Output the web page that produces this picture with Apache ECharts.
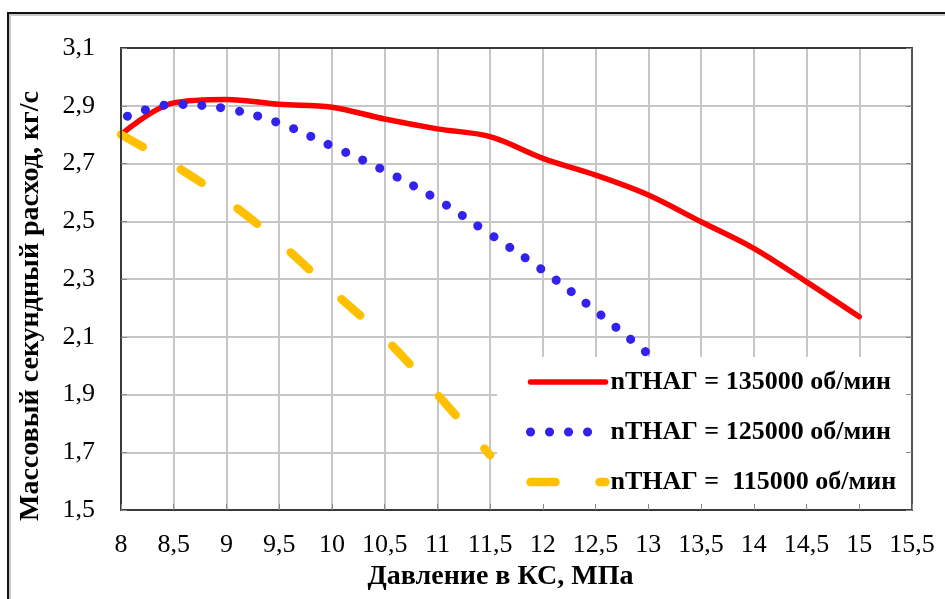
<!DOCTYPE html>
<html>
<head>
<meta charset="utf-8">
<script src="https://cdn.jsdelivr.net/npm/echarts@6/dist/echarts.min.js"></script>
<style>
  html, body { margin: 0; padding: 0; background: #fff; }
  #chart { width: 945px; height: 599px; }
</style>
</head>
<body>
<div id="chart"></div>
<script>
// Pressure in the combustion chamber, MPa
const pressure135 = [8, 8.5, 9, 9.5, 10, 10.5, 11, 11.5, 12, 12.5, 13, 13.5, 14, 14.5, 15];
const flow135     = [2.80, 2.91, 2.922, 2.905, 2.895, 2.854, 2.82, 2.793, 2.718, 2.66, 2.591, 2.498, 2.406, 2.29, 2.169];

const pressure125 = [8, 8.5, 9, 9.5, 10, 10.5, 11, 11.5, 12, 12.5, 13];
const flow125     = [2.855, 2.905, 2.89, 2.84, 2.76, 2.675, 2.575, 2.455, 2.33, 2.19, 2.04];

const pressure115 = [8, 8.5, 9, 9.5, 10, 10.5, 11, 11.5];
const flow115     = [2.80, 2.695, 2.573, 2.427, 2.26, 2.095, 1.90, 1.69];

const seriesNames = [
  'nTHAГ = 135000 об/мин',
  'nTHAГ = 125000 об/мин',
  'nTHAГ =  115000 об/мин'
];

const xRange = { min: 8, max: 15.5, interval: 0.5 };
const yRange = { min: 1.5, max: 3.1, interval: 0.2 };

const SERIF = '"Liberation Serif", "Times New Roman", serif';
const fmtX = v => String(Math.round(v * 10) / 10).replace('.', ',');
const fmtY = v => (Math.round(v * 10) / 10).toFixed(1).replace('.', ',');

const pairs = (xs, ys) => xs.map((x, i) => [x, ys[i]]);

const red = '#ff0000', blue = '#3322ee', gold = '#ffc000';
const axisDark = '#3a3a3a';

// Line styles shared by the curves and their legend samples
const redLine  = { color: red,  width: 5.5, type: 'solid', cap: 'round', join: 'round', dashOffset: 0 };
const blueLine = { color: blue, width: 9, type: [0.1, 18.9], cap: 'round', dashOffset: 0 };
const goldLine = { color: gold, width: 8.5, type: [25, 44], cap: 'round', dashOffset: 0 };

const gridAxisX = Object.assign({
  type: 'value', position: 'bottom', z: 0,
  axisLine: { show: false }, axisTick: { show: false }, axisLabel: { show: false },
  splitLine: { show: true, lineStyle: { color: '#c6c6c6', width: 2 } }
}, xRange);
const gridAxisY = Object.assign({
  type: 'value', position: 'left', z: 0,
  axisLine: { show: false }, axisTick: { show: false }, axisLabel: { show: false },
  splitLine: { show: true, lineStyle: { color: '#c6c6c6', width: 2 } }
}, yRange);

const hiddenSymbol = { opacity: 0, borderWidth: 0 };

const option = {
  backgroundColor: '#fff',
  animation: false,
  grid: { left: 121, top: 48, right: 33, bottom: 89 },
  graphic: [
    { type: 'rect', z: 10, silent: true,
      shape: { x: 10, y: 15, width: 1200, height: 1000 },
      style: { fill: null, stroke: '#c8c8c8', lineWidth: 2 } },
    { type: 'rect', z: 11, silent: true,
      shape: { x: 8, y: 13, width: 1200, height: 1000 },
      style: { fill: null, stroke: '#111', lineWidth: 2 } }
  ],
  legend: {
    orient: 'vertical',
    left: 497, top: 357,
    padding: [11, 18, 13, 29],
    backgroundColor: '#fff',
    z: 1,
    itemWidth: 75, itemHeight: 14, itemGap: 22,
    textStyle: { fontFamily: SERIF, fontWeight: 'bold', fontSize: 26, color: '#000', lineHeight: 28 },
    data: [
      { name: seriesNames[0], lineStyle: redLine,  itemStyle: hiddenSymbol },
      { name: seriesNames[1], lineStyle: blueLine, itemStyle: hiddenSymbol },
      { name: seriesNames[2], lineStyle: goldLine, itemStyle: hiddenSymbol }
    ]
  },
  xAxis: [
    gridAxisX,
    Object.assign({
      type: 'value', position: 'bottom', z: 3,
      name: 'Давление в КС, МПа', nameLocation: 'middle', nameGap: 53,
      nameTextStyle: { fontFamily: SERIF, fontWeight: 'bold', fontSize: 28, color: '#000', padding: [0, 32, 0, 0] },
      axisLine: { show: true, lineStyle: { color: axisDark, width: 2 } },
      axisTick: { show: true, inside: true, length: 6, lineStyle: { color: '#888', width: 1 } },
      axisLabel: { show: true, margin: 22, formatter: fmtX, fontFamily: SERIF, fontSize: 26, color: '#000' },
      splitLine: { show: false }
    }, xRange),
    Object.assign({
      type: 'value', position: 'top', z: 3,
      axisLine: { show: true, lineStyle: { color: axisDark, width: 2 } },
      axisTick: { show: false }, axisLabel: { show: false }, splitLine: { show: false }
    }, xRange)
  ],
  yAxis: [
    gridAxisY,
    Object.assign({
      type: 'value', position: 'left', z: 3,
      name: 'Массовый секундный расход, кг/с', nameLocation: 'middle', nameGap: 76,
      nameTextStyle: { fontFamily: SERIF, fontWeight: 'bold', fontSize: 28, color: '#000', padding: [0, 54, 0, 0] },
      axisLine: { show: true, lineStyle: { color: axisDark, width: 2 } },
      axisTick: { show: true, inside: true, length: 6, lineStyle: { color: '#888', width: 1 } },
      axisLabel: { show: true, margin: 26, formatter: fmtY, fontFamily: SERIF, fontSize: 26, color: '#000' },
      splitLine: { show: false }
    }, yRange),
    Object.assign({
      type: 'value', position: 'right', z: 3,
      axisLine: { show: true, lineStyle: { color: '#555', width: 2 } },
      axisTick: { show: true, inside: true, length: 6, lineStyle: { color: '#888', width: 1 } },
      axisLabel: { show: false }, splitLine: { show: false }
    }, yRange)
  ],
  series: [
    { name: seriesNames[0], type: 'line', xAxisIndex: 1, yAxisIndex: 1, z: 2,
      data: pairs(pressure135, flow135), smooth: 0.35, showSymbol: false, symbol: 'none',
      lineStyle: redLine, itemStyle: { color: red } },
    { name: seriesNames[1], type: 'line', xAxisIndex: 1, yAxisIndex: 1, z: 2,
      data: pairs(pressure125, flow125), smooth: 0.35, showSymbol: false, symbol: 'none',
      lineStyle: Object.assign({}, blueLine, { dashOffset: 12 }), itemStyle: { color: blue } },
    { name: seriesNames[2], type: 'line', xAxisIndex: 1, yAxisIndex: 1, z: 2,
      data: pairs(pressure115, flow115), smooth: 0.35, showSymbol: false, symbol: 'none',
      lineStyle: goldLine, itemStyle: { color: gold } }
  ]
};

const chart = echarts.init(document.getElementById('chart'), null, { renderer: 'canvas' });
chart.setOption(option);
</script>
</body>
</html>
